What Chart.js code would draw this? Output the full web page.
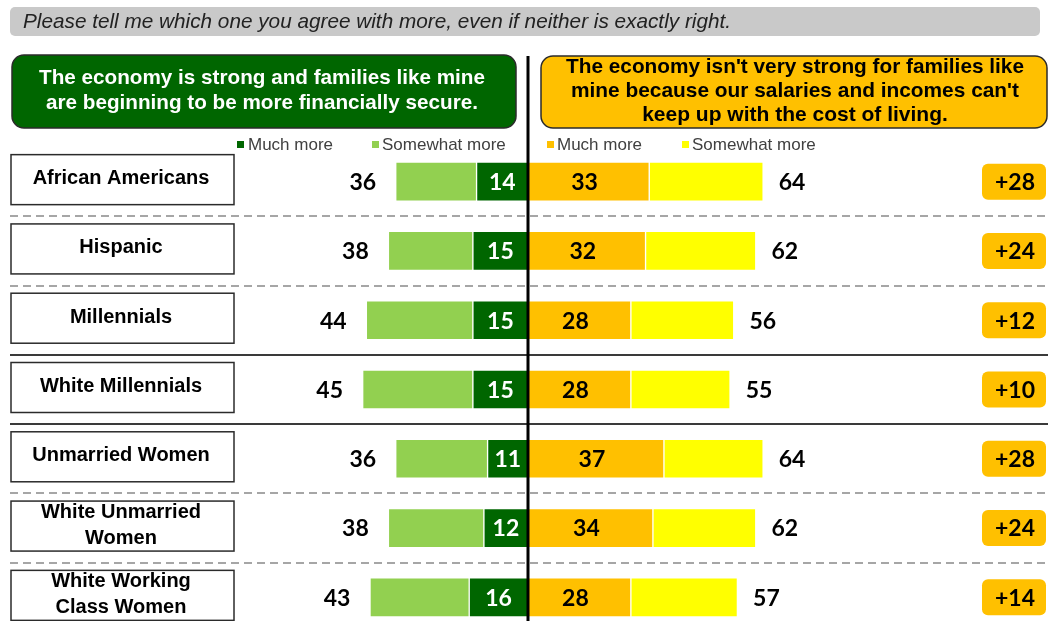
<!DOCTYPE html>
<html>
<head>
<meta charset="utf-8">
<script src="https://cdn.jsdelivr.net/npm/chart.js@4.4.1/dist/chart.umd.min.js"></script>
<style>
html, body { margin: 0; padding: 0; overflow: hidden; background: #fff; }
#wrap { position: relative; width: 1050px; height: 640px; }
</style>
</head>
<body>
<div id="wrap"><canvas id="grafico"></canvas></div>
<script>
// rows, top to bottom
var categories = ['African Americans', 'Hispanic', 'Millennials', 'White Millennials', 'Unmarried Women',
    ['White Unmarried', 'Women'], ['White Working', 'Class Women']];

// "economy is strong" side
var strongMuch = [14, 15, 15, 15, 11, 12, 16];
var strongTotal = [36, 38, 44, 45, 36, 38, 43];

// "economy isn't very strong" side
var weakMuch = [33, 32, 28, 28, 37, 34, 28];
var weakTotal = [64, 62, 56, 55, 64, 62, 57];

var netLabels = ['+28', '+24', '+12', '+10', '+28', '+24', '+14'];

// row separators: true = solid line, false = dashed
var solidAfter = [false, false, true, true, false, false];

var strongSomewhat = strongTotal.map(function (t, i) { return t - strongMuch[i]; });
var weakSomewhat = weakTotal.map(function (t, i) { return t - weakMuch[i]; });

var DARK_GREEN = '#006600', LIGHT_GREEN = '#92D050', ORANGE = '#FFC000', YELLOW = '#FFFF00';
var NUM_FONT = 'bold 23px Lato, "Open Sans", sans-serif';
var ARIAL = '"Liberation Sans", Arial, sans-serif';

function roundRect(ctx, x, y, w, h, r) {
    ctx.beginPath();
    ctx.moveTo(x + r, y);
    ctx.arcTo(x + w, y, x + w, y + h, r);
    ctx.arcTo(x + w, y + h, x, y + h, r);
    ctx.arcTo(x, y + h, x, y, r);
    ctx.arcTo(x, y, x + w, y, r);
    ctx.closePath();
}

var decor = {
    id: 'decor',
    beforeDraw: function (chart) {
        var ctx = chart.ctx;
        var yScale = chart.scales.y;
        ctx.save();

        // question banner
        roundRect(ctx, 10, 7, 1030, 29, 5);
        ctx.fillStyle = '#c9c9c9';
        ctx.fill();
        ctx.fillStyle = '#222';
        ctx.font = 'italic 21px ' + ARIAL;
        ctx.textBaseline = 'middle';
        ctx.textAlign = 'left';
        ctx.fillText('Please tell me which one you agree with more, even if neither is exactly right.', 23, 22, 708);

        // statement boxes
        roundRect(ctx, 12, 55, 504, 73, 12);
        ctx.fillStyle = DARK_GREEN;
        ctx.fill();
        ctx.lineWidth = 1.5;
        ctx.strokeStyle = '#2b2b2b';
        ctx.stroke();
        roundRect(ctx, 541, 56, 506, 72, 12);
        ctx.fillStyle = ORANGE;
        ctx.fill();
        ctx.stroke();

        ctx.font = 'bold 21px ' + ARIAL;
        ctx.textAlign = 'center';
        ctx.fillStyle = '#fff';
        ctx.fillText('The economy is strong and families like mine', 262, 78, 446);
        ctx.fillText('are beginning to be more financially secure.', 262, 103, 432);
        ctx.fillStyle = '#000';
        ctx.fillText("The economy isn't very strong for families like", 795, 67, 458);
        ctx.fillText("mine because our salaries and incomes can't", 795, 91, 448);
        ctx.fillText('keep up with the cost of living.', 795, 115, 307);

        // legends
        var ds = chart.data.datasets;
        var legendPos = [[237, 248], [372, 382], [547, 557], [682, 692]];
        ctx.font = '17px ' + ARIAL;
        ctx.textAlign = 'left';
        legendPos.forEach(function (p, i) {
            ctx.fillStyle = ds[i].backgroundColor;
            ctx.fillRect(p[0], 141, 7, 7);
            ctx.fillStyle = '#404040';
            ctx.fillText(ds[i].label, p[1], 145, i % 2 ? 130 : 88);
        });

        // row separators
        for (var i = 0; i < solidAfter.length; i++) {
            var y = Math.round((yScale.getPixelForValue(i) + yScale.getPixelForValue(i + 1)) / 2);
            ctx.beginPath();
            if (solidAfter[i]) {
                ctx.setLineDash([]);
                ctx.strokeStyle = '#3a3a3a';
            } else {
                ctx.setLineDash([8, 5]);
                ctx.strokeStyle = '#a6a6a6';
            }
            ctx.lineWidth = 2;
            ctx.moveTo(10, y);
            ctx.lineTo(1048, y);
            ctx.stroke();
        }
        ctx.setLineDash([]);

        // category boxes and net boxes
        categories.forEach(function (c, j) {
            var cy = yScale.getPixelForValue(j);
            ctx.fillStyle = '#fff';
            ctx.fillRect(11, cy - 27, 223, 50);
            ctx.strokeStyle = '#2b2b2b';
            ctx.lineWidth = 1.5;
            ctx.strokeRect(11, cy - 27, 223, 50);
            ctx.fillStyle = '#000';
            ctx.font = 'bold 20px ' + ARIAL;
            ctx.textAlign = 'center';
            var lines = Array.isArray(c) ? c : [c];
            var start = cy - 3 - (lines.length - 1) * 13;
            lines.forEach(function (l, k) {
                ctx.fillText(l, 121, start + k * 26, 182);
            });

            roundRect(ctx, 982, cy - 18, 64, 36, 6);
            ctx.fillStyle = ORANGE;
            ctx.fill();
            ctx.fillStyle = '#000';
            ctx.font = NUM_FONT;
            ctx.fillText(netLabels[j], 1015, cy + 1);
        });
        ctx.restore();
    },
    afterDatasetsDraw: function (chart) {
        var ctx = chart.ctx;
        ctx.save();
        ctx.font = NUM_FONT;
        ctx.textAlign = 'center';
        ctx.textBaseline = 'middle';

        var m0 = chart.getDatasetMeta(0), m1 = chart.getDatasetMeta(1);
        var m2 = chart.getDatasetMeta(2), m3 = chart.getDatasetMeta(3);
        categories.forEach(function (c, j) {
            var b0 = m0.data[j], b1 = m1.data[j], b2 = m2.data[j], b3 = m3.data[j];
            ctx.fillStyle = '#fff';
            ctx.fillText(strongMuch[j], (b0.x + b0.base) / 2, b0.y + 1);
            ctx.fillStyle = '#000';
            ctx.fillText(weakMuch[j], (b2.x + b2.base) / 2 - 4, b2.y + 1);
            ctx.fillText(strongTotal[j], b1.x - 33, b1.y + 1);
            ctx.fillText(weakTotal[j], b3.x + 29, b3.y + 1);
        });

        // zero line
        var x0 = Math.round(chart.scales.x.getPixelForValue(0));
        ctx.beginPath();
        ctx.strokeStyle = '#000';
        ctx.lineWidth = 3;
        ctx.moveTo(x0, 56);
        ctx.lineTo(x0, chart.height);
        ctx.stroke();
        ctx.restore();
    }
};

var data = {
    labels: categories,
    datasets: [{
        label: 'Much more',
        backgroundColor: DARK_GREEN,
        data: strongMuch.map(function (v) { return -v; })
    },
    {
        label: 'Somewhat more',
        backgroundColor: LIGHT_GREEN,
        data: strongSomewhat.map(function (v) { return -v; })
    },
    {
        label: 'Much more',
        backgroundColor: ORANGE,
        data: weakMuch
    },
    {
        label: 'Somewhat more',
        backgroundColor: YELLOW,
        data: weakSomewhat
    }]
};

var options = {
    indexAxis: 'y',
    responsive: true,
    maintainAspectRatio: false,
    animation: false,
    layout: { padding: { left: 10, right: 4, top: 147, bottom: 8 } },
    datasets: {
        bar: {
            barThickness: 39,
            borderColor: '#fff',
            borderWidth: 1,
            borderSkipped: false
        }
    },
    scales: {
        x: { stacked: true, min: -141, max: 141, display: false },
        y: { stacked: true, display: false }
    },
    plugins: {
        legend: { display: false },
        tooltip: { enabled: false }
    }
};

var ctx = document.querySelector('#grafico').getContext('2d');
var barChart = new Chart(ctx, {
    type: 'bar',
    data: data,
    options: options,
    plugins: [decor]
});
</script>
</body>
</html>
